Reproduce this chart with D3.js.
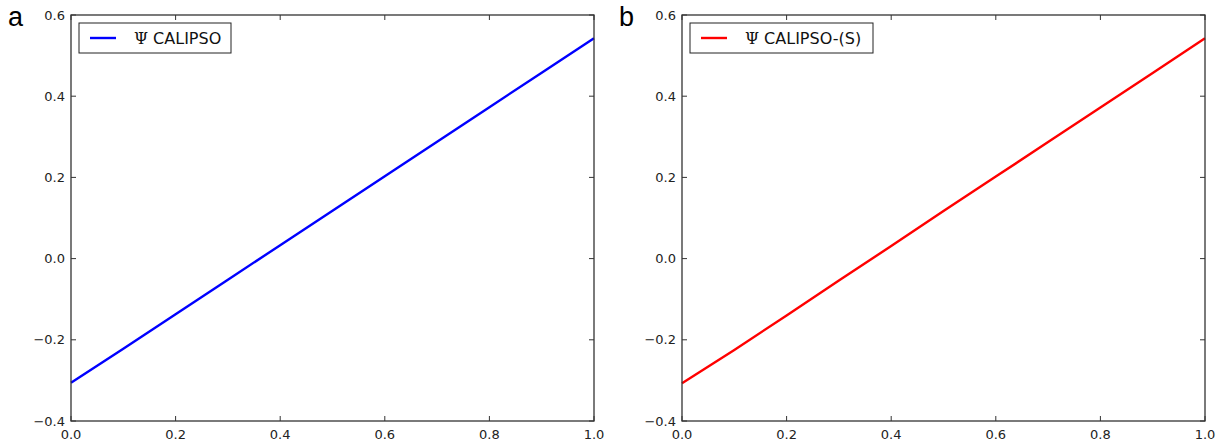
<!DOCTYPE html>
<html>
<head>
<meta charset="utf-8">
<script src="https://cdn.jsdelivr.net/npm/d3@7"></script>
<style>
body { margin: 0; background: #fff; }
svg { display: block; }
</style>
</head>
<body>
<div id="chart"></div>
<script>
// data
var xs = [0.0, 0.1, 0.2, 0.3, 0.4, 0.5, 0.6, 0.7, 0.8, 0.9, 1.0]
var psiCalipso = [-0.306, -0.222, -0.137, -0.052, 0.033, 0.118, 0.203, 0.288, 0.373, 0.458, 0.543]
var psiCalipsoS = [-0.307, -0.225, -0.140, -0.054, 0.031, 0.117, 0.202, 0.287, 0.372, 0.457, 0.543]
var xTicks = [0.0, 0.2, 0.4, 0.6, 0.8, 1.0]
var yTicks = [-0.4, -0.2, 0.0, 0.2, 0.4, 0.6]

var panels = [
  {label: "a", name: "CALIPSO", values: psiCalipso, color: "#0000ff", left: 71, right: 594, legendW: 152},
  {label: "b", name: "CALIPSO-(S)", values: psiCalipsoS, color: "#ff0000", left: 682, right: 1205, legendW: 183}
]

var w = 1227, h = 445
var plotTop = 15, plotBottom = 421

var svg = d3.select("#chart").append("svg")
  .attr("width", w)
  .attr("height", h)

function fmt(v) {
  return d3.format(".1f")(v).replace("-", "\u2212")
}

panels.forEach(function (p) {
  var x = d3.scaleLinear().domain([0, 1]).range([p.left, p.right])
  var y = d3.scaleLinear().domain([-0.4, 0.6]).range([plotBottom, plotTop])
  var g = svg.append("g")

  // ticks, inward on all four sides
  var tk = 5
  xTicks.forEach(function (t) {
    g.append("line").attr("x1", x(t)).attr("x2", x(t)).attr("y1", plotBottom).attr("y2", plotBottom - tk)
      .attr("stroke", "#333")
    g.append("line").attr("x1", x(t)).attr("x2", x(t)).attr("y1", plotTop).attr("y2", plotTop + tk)
      .attr("stroke", "#333")
    g.append("text").attr("x", x(t)).attr("y", plotBottom + 18)
      .attr("text-anchor", "middle")
      .style("font-family", "DejaVu Sans").style("font-size", "13px").style("fill", "#222")
      .text(fmt(t))
  })
  yTicks.forEach(function (t) {
    g.append("line").attr("x1", p.left).attr("x2", p.left + tk).attr("y1", y(t)).attr("y2", y(t))
      .attr("stroke", "#333")
    g.append("line").attr("x1", p.right).attr("x2", p.right - tk).attr("y1", y(t)).attr("y2", y(t))
      .attr("stroke", "#333")
    g.append("text").attr("x", p.left - 6).attr("y", y(t) + 4.5)
      .attr("text-anchor", "end")
      .style("font-family", "DejaVu Sans").style("font-size", "13px").style("fill", "#222")
      .text(fmt(t))
  })

  var line = d3.line()
    .x(function (d, i) { return x(xs[i]) })
    .y(function (d) { return y(d) })

  g.append("path")
    .datum(p.values)
    .attr("d", line)
    .attr("fill", "none")
    .attr("stroke", p.color)
    .attr("stroke-width", 2.4)

  // frame
  g.append("rect")
    .attr("x", p.left).attr("y", plotTop)
    .attr("width", p.right - p.left).attr("height", plotBottom - plotTop)
    .attr("fill", "none").attr("stroke", "#333").attr("stroke-width", 1.3)

  // legend
  var lx = p.left + 8, ly = plotTop + 8
  g.append("rect").attr("x", lx).attr("y", ly).attr("width", p.legendW).attr("height", 30)
    .attr("fill", "#fff").attr("stroke", "#222").attr("stroke-width", 1)
  g.append("line").attr("x1", lx + 11).attr("x2", lx + 37).attr("y1", ly + 15).attr("y2", ly + 15)
    .attr("stroke", p.color).attr("stroke-width", 2.4)
  var lt = g.append("text").attr("x", lx + 55).attr("y", ly + 21)
    .style("font-family", "DejaVu Sans").style("font-size", "16px").style("fill", "#111")
  lt.append("tspan").style("font-family", "DejaVu Serif").text("\u03A8")
  lt.append("tspan").text(" " + p.name)

  // panel label
  svg.append("text").attr("x", p.left - 63).attr("y", 26)
    .style("font-family", "Liberation Sans").style("font-size", "27px").style("fill", "#000")
    .text(p.label)
})
</script>
</body>
</html>
